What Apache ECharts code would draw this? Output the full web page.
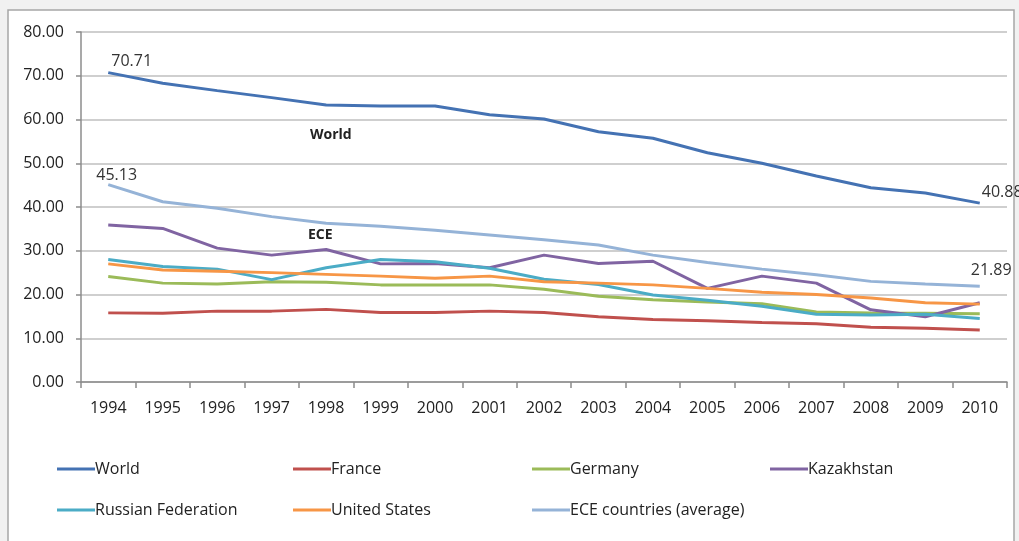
<!DOCTYPE html>
<html>
<head>
<meta charset="utf-8">
<script src="https://cdn.jsdelivr.net/npm/echarts@6/dist/echarts.min.js"></script>
<style>
  html, body { margin: 0; padding: 0; background: #f1f1f1; }
  #chart { width: 1019px; height: 541px; }
</style>
</head>
<body>
<div id="chart"></div>
<script>
const years = ['1994', '1995', '1996', '1997', '1998', '1999', '2000', '2001', '2002',
  '2003', '2004', '2005', '2006', '2007', '2008', '2009', '2010']
const yTicks = [0, 10, 20, 30, 40, 50, 60, 70, 80]

const world = [70.71, 68.3, 66.6, 65.0, 63.3, 63.1, 63.1, 61.1, 60.1, 57.2, 55.7, 52.4, 50.0, 47.1, 44.4, 43.2, 40.88]
const france = [15.8, 15.7, 16.2, 16.2, 16.6, 15.9, 15.9, 16.2, 15.9, 14.9, 14.3, 14.0, 13.6, 13.3, 12.5, 12.3, 11.9]
const germany = [24.1, 22.6, 22.4, 22.9, 22.8, 22.2, 22.2, 22.2, 21.2, 19.6, 18.8, 18.3, 17.9, 16.0, 15.8, 15.7, 15.6]
const kazakhstan = [35.9, 35.1, 30.6, 29.0, 30.3, 27.0, 27.1, 26.1, 29.0, 27.1, 27.6, 21.4, 24.2, 22.6, 16.5, 14.9, 18.1]
const russia = [28.0, 26.4, 25.8, 23.4, 26.1, 28.0, 27.5, 26.0, 23.5, 22.3, 19.9, 18.7, 17.3, 15.5, 15.3, 15.5, 14.5]
const usa = [27.0, 25.6, 25.3, 25.0, 24.6, 24.2, 23.7, 24.2, 22.9, 22.6, 22.2, 21.4, 20.5, 20.0, 19.2, 18.1, 17.8]
const eceAvg = [45.13, 41.2, 39.7, 37.8, 36.3, 35.6, 34.7, 33.6, 32.5, 31.3, 29.0, 27.3, 25.8, 24.5, 23.0, 22.4, 21.89]

const seriesList = [
  { name: 'World', data: world, color: '#4472b3' },
  { name: 'France', data: france, color: '#c0504d' },
  { name: 'Germany', data: germany, color: '#9bbb59' },
  { name: 'Kazakhstan', data: kazakhstan, color: '#8064a2' },
  { name: 'Russian Federation', data: russia, color: '#4bacc6' },
  { name: 'United States', data: usa, color: '#f79646' },
  { name: 'ECE countries (average)', data: eceAvg, color: '#95b3d7' }
]

// end labels only on World and ECE average
const endLabels = {
  'World': [[-3, -11], [-4, -11]],
  'ECE countries (average)': [[-18, -9], [-15, -16]]
}

const withLabels = (name, values) => {
  const offs = endLabels[name]
  if (!offs) return values
  return values.map((v, i) => {
    const k = i === 0 ? 0 : (i === values.length - 1 ? 1 : -1)
    if (k < 0) return v
    return {
      value: v,
      label: {
        show: true, position: 'right', distance: 5, offset: offs[k],
        formatter: v.toFixed(2),
        fontFamily: 'Open Sans', fontSize: 16, color: '#333'
      }
    }
  })
}

const legendCols = [57, 293, 532, 770]
const legendRows = [461, 502]

const chart = echarts.init(document.getElementById('chart'))
chart.setOption({
  animation: false,
  backgroundColor: 'transparent',
  textStyle: { fontFamily: 'Open Sans' },
  graphic: [
    { type: 'rect', z: -10, shape: { x: 8, y: 10, width: 1006, height: 540 },
      style: { fill: '#fff', stroke: '#a6a6a6', lineWidth: 1.5 } },
    { type: 'text', left: 310, top: 128,
      style: { text: 'World', font: 'bold 14px "Open Sans"', fill: '#222' } },
    { type: 'text', left: 308, top: 228,
      style: { text: 'ECE', font: 'bold 14px "Open Sans"', fill: '#222' } }
  ],
  grid: { left: 81, right: 12, top: 32, bottom: 159 },
  xAxis: {
    type: 'category',
    data: years,
    boundaryGap: true,
    axisLine: { lineStyle: { color: '#8c8c8c', width: 1.5 } },
    axisTick: { show: true, length: 6, inside: false, lineStyle: { color: '#8c8c8c', width: 1.5 } },
    axisLabel: { color: '#222', fontSize: 16, margin: 18, fontFamily: 'Open Sans' }
  },
  yAxis: {
    type: 'value',
    min: yTicks[0],
    max: yTicks[yTicks.length - 1],
    interval: 10,
    axisLine: { show: true, lineStyle: { color: '#8c8c8c', width: 1.5 } },
    axisTick: { show: true, length: 5, lineStyle: { color: '#8c8c8c', width: 1.5 } },
    axisLabel: { color: '#222', fontSize: 16, margin: 17, fontFamily: 'Open Sans',
      formatter: v => v.toFixed(2) },
    splitLine: { lineStyle: { color: '#bfbfbf', width: 1.5 } }
  },
  legend: seriesList.map((s, i) => ({
    data: [s.name],
    left: legendCols[i % 4],
    top: legendRows[i < 4 ? 0 : 1],
    icon: 'rect',
    itemWidth: 38,
    itemHeight: 3,
    itemGap: 0,
    padding: 0,
    itemStyle: { color: s.color, borderWidth: 0 },
    textStyle: { fontSize: 16, color: '#222', fontFamily: 'Open Sans', padding: [0, 0, 0, -5] }
  })),
  series: seriesList.map(s => ({
    name: s.name,
    type: 'line',
    data: withLabels(s.name, s.data),
    symbol: 'circle',
    symbolSize: 2,
    showSymbol: true,
    itemStyle: { color: 'transparent', borderWidth: 0 },
    color: s.color,
    lineStyle: { width: 3, color: s.color },
    emphasis: { disabled: true }
  }))
})
</script>
</body>
</html>
